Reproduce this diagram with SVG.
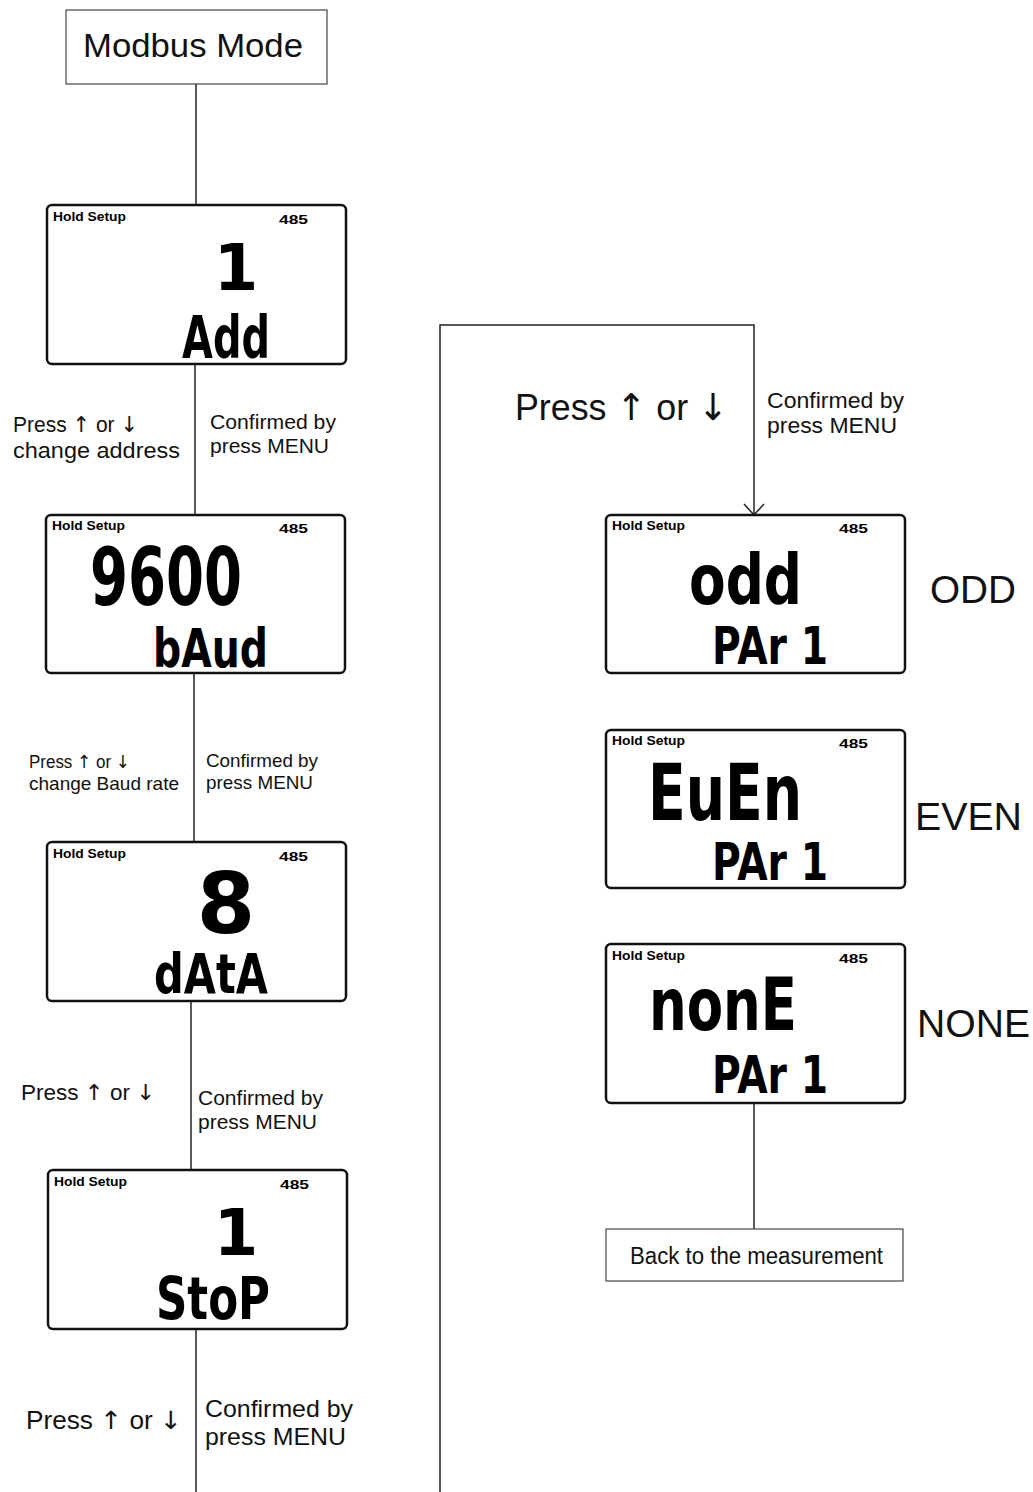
<svg xmlns="http://www.w3.org/2000/svg" width="1033" height="1492" viewBox="0 0 1033 1492">
<style>
  .bg{fill:#fff}
  .box{fill:#fff;stroke:#444;stroke-width:1.2}
  .lcd{fill:#fff;stroke:#111;stroke-width:2.5}
  .ln{fill:none;stroke:#222;stroke-width:1.5}
  .t{font-family:"Liberation Sans",Arial,sans-serif;fill:#111}
  .a{font-family:"DejaVu Sans",sans-serif}
  .hs{font-family:"Liberation Sans",Arial,sans-serif;font-weight:bold;font-size:12px;fill:#000}
  .seg{font-family:"DejaVu Sans","Liberation Sans",sans-serif;font-weight:bold;fill:#000}
</style>
<defs>
  <marker id="arr" markerWidth="14" markerHeight="22" refX="12" refY="11" orient="auto" markerUnits="userSpaceOnUse" viewBox="0 0 14 22">
    <path d="M1,1 L12,11 L1,21" fill="none" stroke="#222" stroke-width="1.5"/>
  </marker>
</defs>
<rect class="bg" x="0" y="0" width="1033" height="1492"/>

<g id="connectors">
  <line class="ln" x1="196" y1="84" x2="196" y2="205"/>
  <line class="ln" x1="195" y1="364" x2="195" y2="515"/>
  <line class="ln" x1="194" y1="673" x2="194" y2="842"/>
  <line class="ln" x1="191" y1="1001" x2="191" y2="1170"/>
  <line class="ln" x1="196" y1="1329" x2="196" y2="1492"/>
  <polyline class="ln" points="440,1492 440,325 754,325 754,515" marker-end="url(#arr)"/>
  <line class="ln" x1="754" y1="1103" x2="754" y2="1229"/>
  <text class="t" x="13" y="432" font-size="22" textLength="125" lengthAdjust="spacingAndGlyphs">Press <tspan class="a">↑</tspan> or <tspan class="a">↓</tspan></text>
  <text class="t" x="13" y="458" font-size="22.5" textLength="167" lengthAdjust="spacingAndGlyphs">change address</text>
  <text class="t" x="210" y="429" font-size="21" textLength="126" lengthAdjust="spacingAndGlyphs">Confirmed by</text>
  <text class="t" x="210" y="453" font-size="21" textLength="119" lengthAdjust="spacingAndGlyphs">press MENU</text>
  <text class="t" x="29" y="768" font-size="18" textLength="101" lengthAdjust="spacingAndGlyphs">Press <tspan class="a">↑</tspan> or <tspan class="a">↓</tspan></text>
  <text class="t" x="29" y="790" font-size="18.5" textLength="150" lengthAdjust="spacingAndGlyphs">change Baud rate</text>
  <text class="t" x="206" y="767" font-size="18.5" textLength="112" lengthAdjust="spacingAndGlyphs">Confirmed by</text>
  <text class="t" x="206" y="789" font-size="18.5" textLength="107" lengthAdjust="spacingAndGlyphs">press MENU</text>
  <text class="t" x="21" y="1100" font-size="22" textLength="134" lengthAdjust="spacingAndGlyphs">Press <tspan class="a">↑</tspan> or <tspan class="a">↓</tspan></text>
  <text class="t" x="198" y="1105" font-size="21" textLength="125" lengthAdjust="spacingAndGlyphs">Confirmed by</text>
  <text class="t" x="198" y="1129" font-size="21" textLength="119" lengthAdjust="spacingAndGlyphs">press MENU</text>
  <text class="t" x="26" y="1429" font-size="25" textLength="156" lengthAdjust="spacingAndGlyphs">Press <tspan class="a">↑</tspan> or <tspan class="a">↓</tspan></text>
  <text class="t" x="205" y="1417" font-size="24" textLength="148" lengthAdjust="spacingAndGlyphs">Confirmed by</text>
  <text class="t" x="205" y="1445" font-size="24" textLength="141" lengthAdjust="spacingAndGlyphs">press MENU</text>
  <text class="t" x="515" y="420" font-size="37" textLength="213" lengthAdjust="spacingAndGlyphs">Press <tspan class="a">↑</tspan> or <tspan class="a">↓</tspan></text>
  <text class="t" x="767" y="408" font-size="22" textLength="137" lengthAdjust="spacingAndGlyphs">Confirmed by</text>
  <text class="t" x="767" y="433" font-size="22" textLength="130" lengthAdjust="spacingAndGlyphs">press MENU</text>
</g>

<g id="modbus-mode">
  <rect class="box" x="66" y="10" width="261" height="74"/>
  <text class="t" x="83" y="57" font-size="34" textLength="220" lengthAdjust="spacingAndGlyphs">Modbus Mode</text>
</g>

<g id="lcd-add">
  <rect class="lcd" x="47" y="205" width="299" height="159" rx="5"/>
  <text class="hs" x="53" y="221" textLength="73" lengthAdjust="spacingAndGlyphs">Hold Setup</text>
  <text class="hs" x="279" y="224" font-size="15" textLength="29" lengthAdjust="spacingAndGlyphs">485</text>
  <text class="seg" x="236" y="290" font-size="64" text-anchor="middle">1</text>
  <text class="seg" x="182" y="358" font-size="58" textLength="88" lengthAdjust="spacingAndGlyphs">Add</text>
</g>

<g id="lcd-baud">
  <rect class="lcd" x="46" y="515" width="299" height="158" rx="5"/>
  <text class="hs" x="52" y="530" textLength="73" lengthAdjust="spacingAndGlyphs">Hold Setup</text>
  <text class="hs" x="279" y="533" font-size="15" textLength="29" lengthAdjust="spacingAndGlyphs">485</text>
  <text class="seg" x="90" y="605" font-size="80" textLength="152" lengthAdjust="spacingAndGlyphs">9600</text>
  <text class="seg" x="153" y="667" font-size="54" textLength="115" lengthAdjust="spacingAndGlyphs">bAud</text>
</g>

<g id="lcd-data">
  <rect class="lcd" x="47" y="842" width="299" height="159" rx="5"/>
  <text class="hs" x="53" y="858" textLength="73" lengthAdjust="spacingAndGlyphs">Hold Setup</text>
  <text class="hs" x="279" y="861" font-size="15" textLength="29" lengthAdjust="spacingAndGlyphs">485</text>
  <text class="seg" x="226" y="933" font-size="84" text-anchor="middle">8</text>
  <text class="seg" x="154" y="993" font-size="56" textLength="114" lengthAdjust="spacingAndGlyphs">dAtA</text>
</g>

<g id="lcd-stop">
  <rect class="lcd" x="48" y="1170" width="299" height="159" rx="5"/>
  <text class="hs" x="54" y="1186" textLength="73" lengthAdjust="spacingAndGlyphs">Hold Setup</text>
  <text class="hs" x="280" y="1189" font-size="15" textLength="29" lengthAdjust="spacingAndGlyphs">485</text>
  <text class="seg" x="236" y="1255" font-size="64" text-anchor="middle">1</text>
  <text class="seg" x="156" y="1319" font-size="58" textLength="114" lengthAdjust="spacingAndGlyphs">StoP</text>
</g>

<g id="lcd-odd">
  <rect class="lcd" x="606" y="515" width="299" height="158" rx="5"/>
  <text class="hs" x="612" y="530" textLength="73" lengthAdjust="spacingAndGlyphs">Hold Setup</text>
  <text class="hs" x="839" y="533" font-size="15" textLength="29" lengthAdjust="spacingAndGlyphs">485</text>
  <text class="seg" x="689" y="604" font-size="70" textLength="113" lengthAdjust="spacingAndGlyphs">odd</text>
  <text class="seg" x="712" y="664" font-size="52" textLength="116" lengthAdjust="spacingAndGlyphs">PAr 1</text>
  <text class="t" x="930" y="603" font-size="38" textLength="86" lengthAdjust="spacingAndGlyphs">ODD</text>
</g>

<g id="lcd-even">
  <rect class="lcd" x="606" y="730" width="299" height="158" rx="5"/>
  <text class="hs" x="612" y="745" textLength="73" lengthAdjust="spacingAndGlyphs">Hold Setup</text>
  <text class="hs" x="839" y="748" font-size="15" textLength="29" lengthAdjust="spacingAndGlyphs">485</text>
  <text class="seg" x="648" y="820" font-size="78" textLength="154" lengthAdjust="spacingAndGlyphs">EuEn</text>
  <text class="seg" x="712" y="880" font-size="52" textLength="116" lengthAdjust="spacingAndGlyphs">PAr 1</text>
  <text class="t" x="915" y="830" font-size="39" textLength="107" lengthAdjust="spacingAndGlyphs">EVEN</text>
</g>

<g id="lcd-none">
  <rect class="lcd" x="606" y="944" width="299" height="159" rx="5"/>
  <text class="hs" x="612" y="960" textLength="73" lengthAdjust="spacingAndGlyphs">Hold Setup</text>
  <text class="hs" x="839" y="963" font-size="15" textLength="29" lengthAdjust="spacingAndGlyphs">485</text>
  <text class="seg" x="649" y="1030" font-size="73" textLength="148" lengthAdjust="spacingAndGlyphs">nonE</text>
  <text class="seg" x="712" y="1093" font-size="52" textLength="116" lengthAdjust="spacingAndGlyphs">PAr 1</text>
  <text class="t" x="917" y="1037" font-size="39" textLength="113" lengthAdjust="spacingAndGlyphs">NONE</text>
</g>

<g id="back-to-measurement">
  <rect class="box" x="606" y="1229" width="297" height="52"/>
  <text class="t" x="630" y="1264" font-size="23" textLength="253" lengthAdjust="spacingAndGlyphs">Back to the measurement</text>
</g>
</svg>
